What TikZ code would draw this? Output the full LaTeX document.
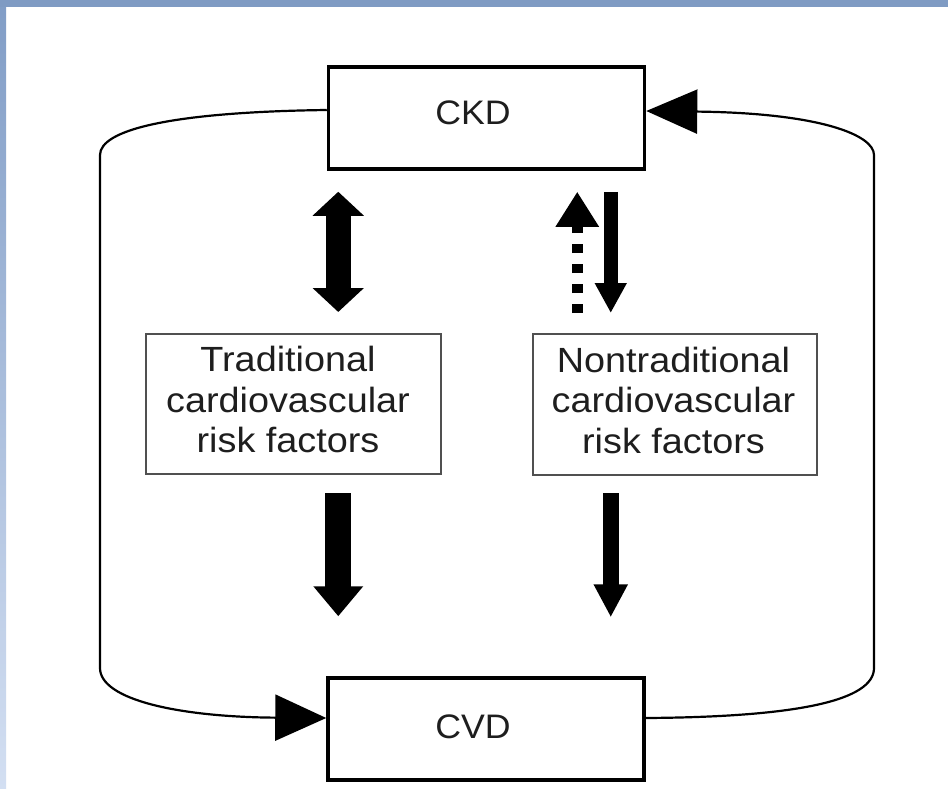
\documentclass[tikz,border=0pt]{standalone}
\usepackage{fontspec}
\usepackage{graphicx}
\setmainfont{Liberation Sans}
\usetikzlibrary{arrows.meta,calc}
\definecolor{topblue}{HTML}{7F9BC3}
\definecolor{sidetop}{HTML}{819DC6}
\definecolor{sidebot}{HTML}{D3DFF2}
\definecolor{txt}{HTML}{1E1E1E}
\definecolor{thinframe}{HTML}{505050}
\newcommand{\mainstretch}[1]{\scalebox{1.05}[1]{#1}}
\newcommand{\riskstretch}[1]{\scalebox{1.08}[1]{#1}}
\begin{document}
\begin{tikzpicture}[x=1pt,y=-1pt,
  mainbox/.style={draw=black, line width=3.5pt, fill=white, minimum width=316pt,
    minimum height=102pt, inner sep=0pt, text=txt, font=\fontsize{34}{40}\selectfont},
  riskbox/.style={draw=thinframe, line width=2pt, fill=white, inner sep=0pt,
    text=txt, font=\fontsize{35}{40.5}\selectfont},
  loopline/.style={draw=black, line width=2.2pt},
  dblarrow/.style={line width=25pt, {Triangle[length=24pt,width=50pt]}-{Triangle[length=24pt,width=50pt]}},
  bigdown/.style={line width=26pt, -{Triangle[length=30pt,width=48pt]}},
  dottedup/.style={line width=11pt, dash pattern=on 9pt off 11pt, -{Triangle[length=35pt,width=41pt]}},
  thindown/.style={line width=14pt, -{Triangle[length=30pt,width=30pt]}},
  thindownb/.style={line width=16pt, -{Triangle[length=33pt,width=32pt]}}
]
\useasboundingbox (0,0) rectangle (948,789);
\fill[white] (0,0) rectangle (948,789);
\shade[top color=sidetop, bottom color=sidebot] (0,0) rectangle (6,789);
\fill[topblue] (0,0) rectangle (948,7);

% boxes
\node[mainbox, text height=24pt, text depth=10pt] (ckd) at (486.5,118) {\mainstretch{CKD}\hspace*{27pt}};
\node[mainbox, text height=24pt, text depth=6pt] (cvd) at (486,729) {\mainstretch{CVD}\hspace*{26pt}};
\node[riskbox, minimum width=295pt, minimum height=140pt] (trad) at (293.5,404)
  {\riskstretch{\begin{tabular}{@{}c@{}}Traditional\\cardiovascular\\risk factors\end{tabular}}\hspace*{11pt}};
\node[riskbox, minimum width=284pt, minimum height=141pt] (nontrad) at (675,404.5)
  {\riskstretch{\begin{tabular}{@{}c@{}}Nontraditional\\cardiovascular\\risk factors\end{tabular}}\hspace*{3pt}};

% arrow columns
\coordinate (xa) at ($(ckd.south west)+(11.5,0)$);
\coordinate (xb) at ($(ckd.south west)+(250.5,0)$);
\coordinate (xc) at ($(ckd.south west)+(284,0)$);

\draw[dblarrow, shorten <=21pt, shorten >=21pt] (xa |- ckd.south) -- (xa |- trad.north);
\draw[bigdown, shorten <=18pt, shorten >=60pt] (xa |- trad.south) -- (xa |- cvd.north);
\draw[dottedup, shorten <=20pt, shorten >=21pt] (xb |- nontrad.north) -- (xb |- ckd.south);
\draw[thindown, shorten <=21pt, shorten >=20pt] (xc |- ckd.south) -- (xc |- nontrad.north);
\draw[thindownb, shorten <=17pt, shorten >=59pt] (xc |- nontrad.south) -- (xc |- cvd.north);

% feedback loops
\draw[loopline, -{Triangle[length=51pt,width=46pt]}]
  ([yshift=8pt]ckd.west) .. controls (170,112) and (100,130) .. (100,155)
  -- (100,668) .. controls (100,700) and (180,717) .. ([yshift=11pt]cvd.west);
\draw[loopline, -{Triangle[length=51pt,width=44pt]}]
  ([yshift=11pt]cvd.east) .. controls (800,717) and (874,700) .. (874,668)
  -- (874,155) .. controls (874,135) and (820,113) .. ([yshift=7pt]ckd.east);
\end{tikzpicture}
\end{document}
